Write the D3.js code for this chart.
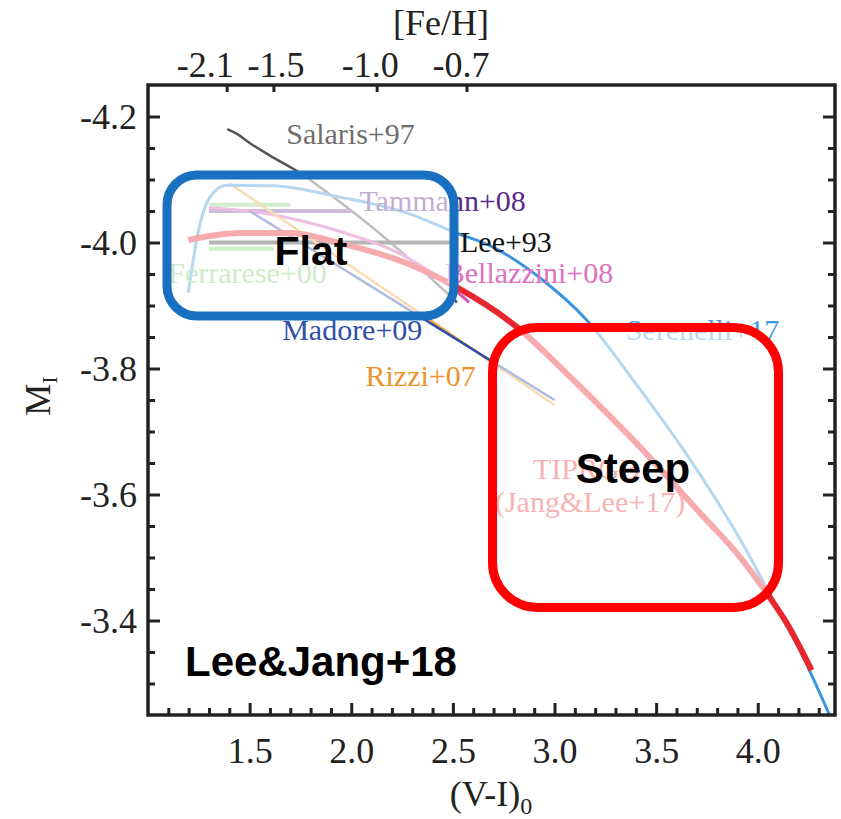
<!DOCTYPE html>
<html>
<head>
<meta charset="utf-8">
<script src="https://cdn.jsdelivr.net/npm/d3@7/dist/d3.min.js"></script>
<style>
  body { margin: 0; background: #fff; }
  svg { display: block; }
</style>
</head>
<body>
<svg id="chart"></svg>
<script>
const width = 841;
const height = 819;

// tick values / labels
const viMajor = [1.5, 2.0, 2.5, 3.0, 3.5, 4.0];
const viMinor = [1.1, 1.2, 1.3, 1.4, 1.6, 1.7, 1.8, 1.9, 2.1, 2.2, 2.3, 2.4, 2.6, 2.7, 2.8, 2.9,
  3.1, 3.2, 3.3, 3.4, 3.6, 3.7, 3.8, 3.9, 4.1, 4.2, 4.3];
const miMajor = [-4.2, -4.0, -3.8, -3.6, -3.4];
const miMinor = [-4.15, -4.1, -4.05, -3.95, -3.9, -3.85, -3.75, -3.7, -3.65, -3.55, -3.5, -3.45,
  -3.35, -3.3];
const fehLabels = ["-2.1", "-1.5", "-1.0", "-0.7"];
const fehAtVI = [1.387, 1.617, 2.125, 2.567];

// calibrations, (V-I)0 vs M_I
const salarisVI = [1.39, 1.44, 1.5, 1.6, 1.75, 1.9, 2.1, 2.3, 2.52];
const salarisMI = [-4.18, -4.172, -4.158, -4.138, -4.11, -4.075, -4.025, -3.97, -3.905];
const ferrareseHiVI = [1.3, 1.7];
const ferrareseHiMI = [-4.06, -4.06];
const ferrareseLoVI = [1.3, 1.62];
const ferrareseLoMI = [-3.99, -3.99];
const tammannVI = [1.3, 2.0];
const tammannMI = [-4.05, -4.05];
const leeVI = [1.3, 2.5];
const leeMI = [-4.0, -4.0];
const bellazziniVI = [1.3, 1.6, 1.95, 2.27, 2.45, 2.58];
const bellazziniMI = [-4.055, -4.045, -4.017, -3.977, -3.94, -3.905];
const rizziVI = [1.4, 3.0];
const rizziMI = [-4.094, -3.742];
const madoreVI = [1.5, 3.0];
const madoreMI = [-4.05, -3.75];
const serenelliVI = [1.198, 1.246, 1.305, 1.387, 1.615, 1.944, 2.273, 2.518, 2.682, 2.943, 3.158,
  3.386, 3.632, 3.814, 3.927, 4.043, 4.207, 4.36];
const serenelliMI = [-3.92, -4.015, -4.072, -4.091, -4.09, -4.072, -4.047, -4.015, -3.995, -3.94,
  -3.877, -3.782, -3.672, -3.582, -3.521, -3.452, -3.353, -3.245];
const tipVI = [1.198, 1.453, 1.698, 1.944, 2.273, 2.518, 2.814, 3.06, 3.386, 3.715, 3.912, 4.043,
  4.142, 4.265];
const tipMI = [-4.004, -4.015, -4.015, -3.999, -3.967, -3.929, -3.866, -3.792, -3.687, -3.571,
  -3.501, -3.444, -3.396, -3.321];

const series = [
  { vi: salarisVI, mi: salarisMI, color: "#555555", w: 2.5 },
  { vi: ferrareseHiVI, mi: ferrareseHiMI, color: "#8ccf7e", w: 4 },
  { vi: ferrareseLoVI, mi: ferrareseLoMI, color: "#8ccf7e", w: 4 },
  { vi: tammannVI, mi: tammannMI, color: "#7d4fa8", w: 4 },
  { vi: leeVI, mi: leeMI, color: "#3a3a3a", w: 4 },
  { vi: bellazziniVI, mi: bellazziniMI, color: "#d657b0", w: 3 },
  { vi: rizziVI, mi: rizziMI, color: "#f3a03a", w: 2.5 },
  { vi: madoreVI, mi: madoreMI, color: "#2f4fa8", w: 2.5 },
  { vi: serenelliVI, mi: serenelliMI, color: "#3d95db", w: 3 },
  { vi: tipVI, mi: tipMI, color: "#e8262e", w: 6 },
];

const labels = [
  { text: "Salaris+97", color: "#6e6e6e", vi: 1.68, mi: -4.157 },
  { text: "Tammann+08", color: "#5a2a8a", vi: 2.04, mi: -4.05 },
  { text: "Lee+93", color: "#111111", vi: 2.535, mi: -3.985 },
  { text: "Ferrarese+00", color: "#7ecb70", vi: 1.1, mi: -3.935 },
  { text: "Bellazzini+08", color: "#e070c0", vi: 2.46, mi: -3.935 },
  { text: "Madore+09", color: "#2f4fa8", vi: 1.66, mi: -3.845 },
  { text: "Rizzi+07", color: "#f0922a", vi: 2.07, mi: -3.772 },
  { text: "Serenelli+17", color: "#3d9ae0", vi: 3.35, mi: -3.845 },
  { text: "TIPRGB", color: "#ee3333", vi: 2.894, mi: -3.624 },
  { text: "(Jang&Lee+17)", color: "#ee3333", vi: 2.707, mi: -3.573 },
];

const x = d3.scaleLinear().domain([1.0, 4.38]).range([148, 835]);
const y = d3.scaleLinear().domain([-4.25, -3.25]).range([85, 715]);

const serif = "'Liberation Serif', 'Times New Roman', serif";
const sans = "'Liberation Sans', Arial, sans-serif";
const axisColor = "#222";

const svg = d3.select("#chart")
  .attr("width", width)
  .attr("height", height)
  .attr("viewBox", [0, 0, width, height]);

svg.append("defs").append("clipPath").attr("id", "plot")
  .append("rect")
  .attr("x", x.range()[0]).attr("y", y.range()[0])
  .attr("width", x.range()[1] - x.range()[0])
  .attr("height", y.range()[1] - y.range()[0]);

const g = svg.append("g").attr("clip-path", "url(#plot)");

const line = d3.line()
  .x((d) => x(d[0]))
  .y((d) => y(d[1]))
  .curve(d3.curveMonotoneX);

g.selectAll("path.cal")
  .data(series)
  .join("path")
  .attr("class", "cal")
  .attr("fill", "none")
  .attr("stroke", (d) => d.color)
  .attr("stroke-width", (d) => d.w)
  .attr("d", (d) => line(d3.zip(d.vi, d.mi)));

g.selectAll("text.lab")
  .data(labels)
  .join("text")
  .attr("class", "lab")
  .attr("x", (d) => x(d.vi))
  .attr("y", (d) => y(d.mi))
  .attr("fill", (d) => d.color)
  .attr("font-family", serif)
  .attr("font-size", 30)
  .text((d) => d.text);

// highlight boxes: white veil inside, thick rounded border
const boxes = [
  { x: 167, y: 175, w: 287, h: 141, r: 30, color: "#1a70c0" },
  { x: 492.5, y: 327.5, w: 286, h: 280, r: 45, color: "#ff0000" },
];
svg.selectAll("rect.veil")
  .data(boxes)
  .join("rect")
  .attr("class", "veil")
  .attr("x", (d) => d.x).attr("y", (d) => d.y)
  .attr("width", (d) => d.w).attr("height", (d) => d.h)
  .attr("rx", (d) => d.r)
  .attr("fill", "#fff")
  .attr("fill-opacity", 0.62)
  .attr("stroke", (d) => d.color)
  .attr("stroke-width", 9);

svg.append("text")
  .attr("x", 311).attr("y", 265)
  .attr("text-anchor", "middle")
  .attr("font-family", sans)
  .attr("font-weight", "bold")
  .attr("font-size", 41)
  .text("Flat");

svg.append("text")
  .attr("x", 633).attr("y", 483)
  .attr("text-anchor", "middle")
  .attr("font-family", sans)
  .attr("font-weight", "bold")
  .attr("font-size", 42)
  .text("Steep");

svg.append("text")
  .attr("x", 185).attr("y", 676)
  .attr("font-family", sans)
  .attr("font-weight", "bold")
  .attr("font-size", 42)
  .text("Lee&Jang+18");

// axes
const fmt = (d) => d.toFixed(1);

function styleAxis(sel) {
  sel.attr("font-family", serif).attr("font-size", 36);
  sel.select(".domain").remove();
  sel.selectAll("line").attr("stroke", axisColor).attr("stroke-width", 3);
  sel.selectAll("text").attr("fill", axisColor);
}

const H = y.range()[1];
const T = y.range()[0];
const L = x.range()[0];
const R = x.range()[1];

svg.append("g").attr("transform", `translate(0,${H})`)
  .call(d3.axisBottom(x).tickValues(viMajor).tickFormat(fmt).tickSizeInner(-12).tickSizeOuter(0).tickPadding(22))
  .call(styleAxis);
svg.append("g").attr("transform", `translate(0,${H})`)
  .call(d3.axisBottom(x).tickValues(viMinor).tickFormat("").tickSizeInner(-7).tickSizeOuter(0))
  .call(styleAxis);

svg.append("g").attr("transform", `translate(${L},0)`)
  .call(d3.axisLeft(y).tickValues(miMajor).tickFormat(fmt).tickSizeInner(-12).tickSizeOuter(0).tickPadding(11))
  .call(styleAxis);
svg.append("g").attr("transform", `translate(${L},0)`)
  .call(d3.axisLeft(y).tickValues(miMinor).tickFormat("").tickSizeInner(-7).tickSizeOuter(0))
  .call(styleAxis);

svg.append("g").attr("transform", `translate(${R},0)`)
  .call(d3.axisRight(y).tickValues(miMajor).tickFormat("").tickSizeInner(-12).tickSizeOuter(0))
  .call(styleAxis);
svg.append("g").attr("transform", `translate(${R},0)`)
  .call(d3.axisRight(y).tickValues(miMinor).tickFormat("").tickSizeInner(-7).tickSizeOuter(0))
  .call(styleAxis);

// top axis: [Fe/H] at the matching colour
const fehNudge = [-22, 2, -7, -6];
const topAxis = svg.append("g").attr("transform", `translate(0,${T})`)
  .call(d3.axisTop(x).tickValues(fehAtVI).tickFormat((d, i) => fehLabels[i])
    .tickSizeInner(-7).tickSizeOuter(0).tickPadding(8))
  .call(styleAxis);
topAxis.selectAll("text").attr("dx", (d, i) => fehNudge[i]);

// frame
svg.append("rect")
  .attr("x", L).attr("y", T)
  .attr("width", R - L).attr("height", H - T)
  .attr("fill", "none")
  .attr("stroke", axisColor)
  .attr("stroke-width", 3.5);

// axis titles
svg.append("text")
  .attr("x", 441).attr("y", 35)
  .attr("text-anchor", "middle")
  .attr("font-family", serif).attr("font-size", 36).attr("fill", axisColor)
  .text("[Fe/H]");

const xt = svg.append("text")
  .attr("x", 491).attr("y", 806)
  .attr("text-anchor", "middle")
  .attr("font-family", serif).attr("font-size", 36).attr("fill", axisColor);
xt.append("tspan").text("(V-I)");
xt.append("tspan").attr("font-size", 24).attr("dy", 8).text("0");

const yt = svg.append("text")
  .attr("transform", "translate(50,396) rotate(-90)")
  .attr("text-anchor", "middle")
  .attr("font-family", serif).attr("font-size", 36).attr("fill", axisColor);
yt.append("tspan").text("M");
yt.append("tspan").attr("font-size", 22).attr("dy", 7).text("I");
</script>
</body>
</html>
